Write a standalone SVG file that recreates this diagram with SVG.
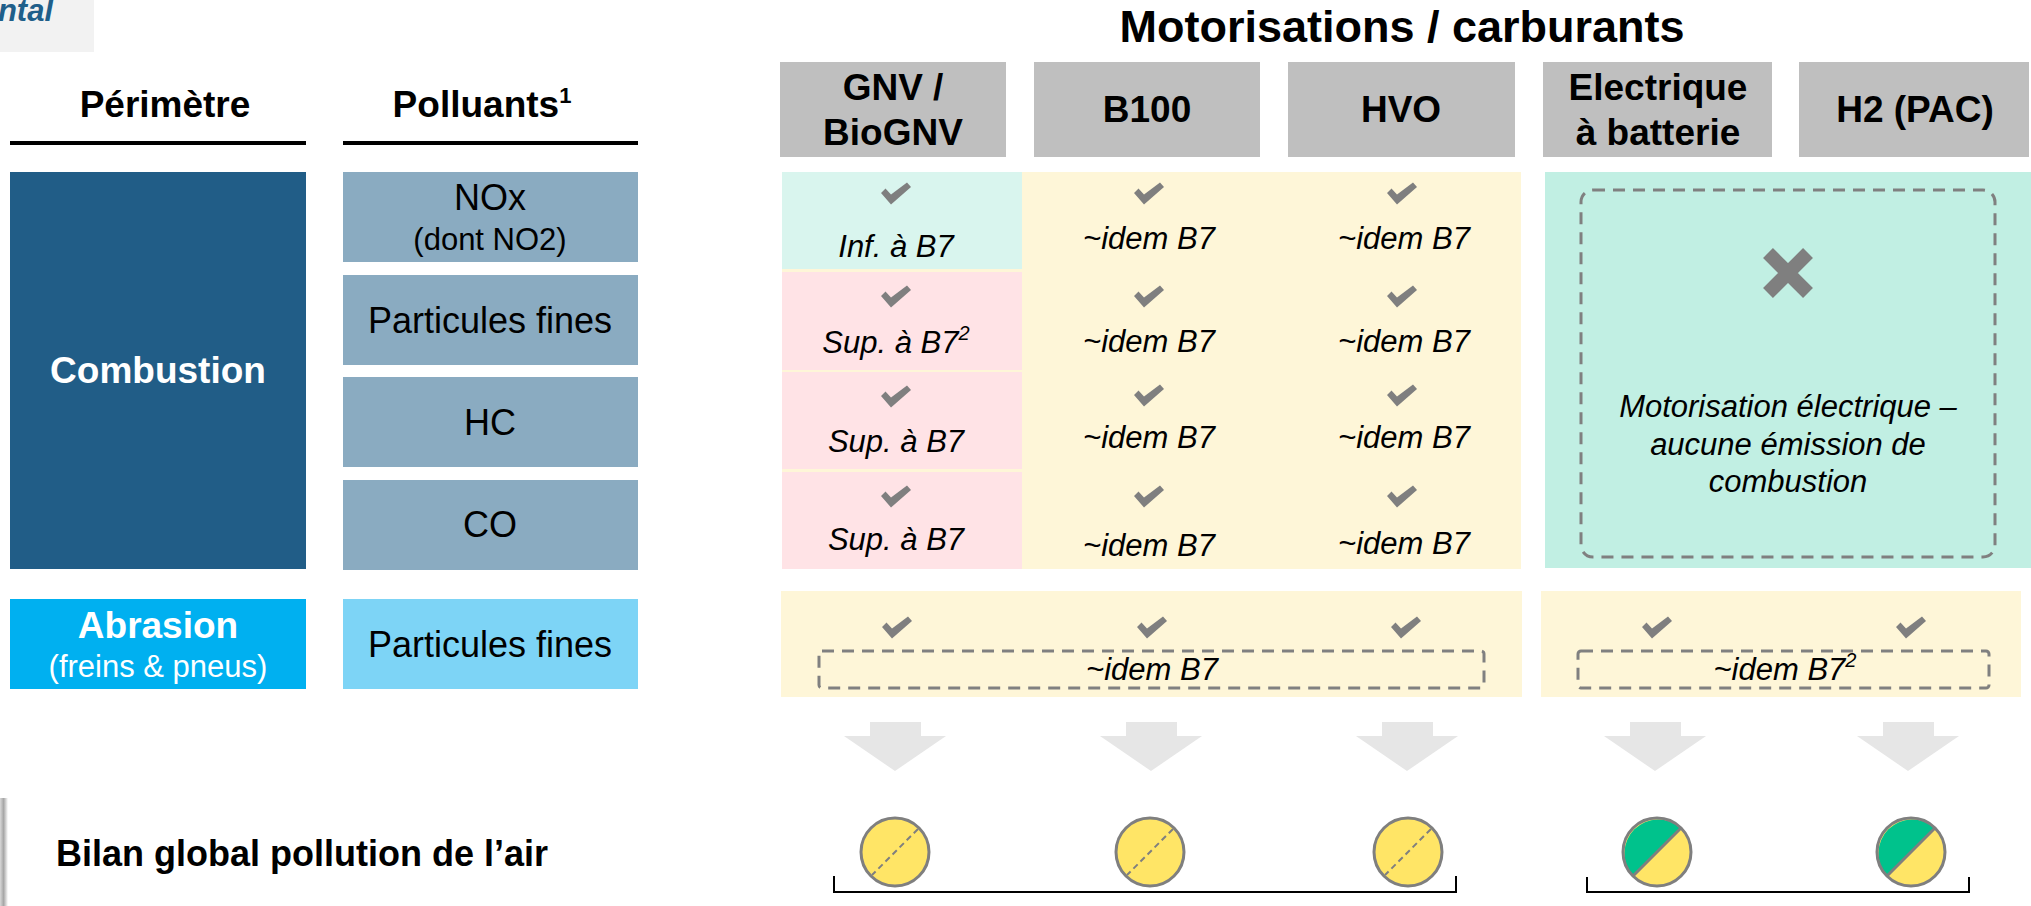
<svg xmlns="http://www.w3.org/2000/svg" width="2031" height="906" viewBox="0 0 2031 906">
<style>
text{font-family:"Liberation Sans",Arial,sans-serif;}
.h{font-weight:bold;font-size:37px;fill:#000;text-anchor:middle;}
.lbl{font-size:36px;fill:#000;text-anchor:middle;}
.sm{font-size:31px;text-anchor:middle;}
.it{font-style:italic;font-size:31px;fill:#000;text-anchor:middle;}
.hdr{fill:#bfbfbf;}
.pol{fill:#8aabc1;}
.dash{fill:none;stroke:#808080;stroke-width:3;stroke-dasharray:12 8;}
.chk{fill:#7f7f7f;}
.arr{fill:#e6e6e6;}
.ring{fill:none;stroke:#7f7f7f;stroke-width:3;}
.br{fill:none;stroke:#000;stroke-width:2;}
</style>
<defs>
<polygon id="chk" class="chk" points="-15,-1 -10.5,-5.5 -5,0.5 11,-11.5 15,-7 -5,10.5"/>
<linearGradient id="sh" x1="0" y1="0" x2="1" y2="0">
<stop offset="0" stop-color="#d8d8d8"/>
<stop offset="0.45" stop-color="#a6a6a6"/>
<stop offset="1" stop-color="#ffffff"/>
</linearGradient>
</defs>
<rect width="2031" height="906" fill="#ffffff"/>

<g id="title-fragment">
<rect x="0" y="0" width="94" height="52" fill="#f2f2f2"/>
<text x="53" y="21" font-size="31" font-weight="bold" font-style="italic" fill="#1f5f8a" text-anchor="end">ntal</text>
</g>

<g id="col-headers-left">
<text class="h" x="165" y="117">Périmètre</text>
<rect x="10" y="141" width="296" height="4" fill="#000"/>
<text class="h" x="482" y="117">Polluants<tspan font-size="22" dy="-14">1</tspan></text>
<rect x="343" y="141" width="295" height="4" fill="#000"/>
</g>

<g id="perimetre-combustion">
<rect x="10" y="172" width="296" height="397" fill="#215d87"/>
<text class="h" x="158" y="383" style="fill:#fff">Combustion</text>
</g>
<g id="perimetre-abrasion">
<rect x="10" y="599" width="296" height="90" fill="#00b0f0"/>
<text class="h" x="158" y="638" style="fill:#fff">Abrasion</text>
<text class="sm" x="158" y="677" fill="#fff">(freins &amp; pneus)</text>
</g>

<g id="pol-nox">
<rect class="pol" x="343" y="172" width="295" height="90"/>
<text class="lbl" x="490" y="210">NOx</text>
<text class="sm" x="490" y="250" fill="#000">(dont NO2)</text>
</g>
<g id="pol-pf">
<rect class="pol" x="343" y="275" width="295" height="90"/>
<text class="lbl" x="490" y="333">Particules fines</text>
</g>
<g id="pol-hc">
<rect class="pol" x="343" y="377" width="295" height="90"/>
<text class="lbl" x="490" y="435">HC</text>
</g>
<g id="pol-co">
<rect class="pol" x="343" y="480" width="295" height="90"/>
<text class="lbl" x="490" y="537">CO</text>
</g>
<g id="pol-abrasion-pf">
<rect x="343" y="599" width="295" height="90" fill="#7dd4f6"/>
<text class="lbl" x="490" y="657">Particules fines</text>
</g>

<g id="motorisations-title">
<text x="1402" y="42" font-size="45" font-weight="bold" text-anchor="middle" fill="#000">Motorisations / carburants</text>
</g>

<g id="hdr-gnv">
<rect class="hdr" x="780" y="62" width="226" height="95"/>
<text class="h" x="893" y="100">GNV /</text>
<text class="h" x="893" y="145">BioGNV</text>
</g>
<g id="hdr-b100">
<rect class="hdr" x="1034" y="62" width="226" height="95"/>
<text class="h" x="1147" y="122">B100</text>
</g>
<g id="hdr-hvo">
<rect class="hdr" x="1288" y="62" width="227" height="95"/>
<text class="h" x="1401" y="122">HVO</text>
</g>
<g id="hdr-elec">
<rect class="hdr" x="1543" y="62" width="229" height="95"/>
<text class="h" x="1658" y="100">Electrique</text>
<text class="h" x="1658" y="145">à batterie</text>
</g>
<g id="hdr-h2">
<rect class="hdr" x="1799" y="62" width="230" height="95"/>
<text class="h" x="1915" y="122">H2 (PAC)</text>
</g>

<g id="combustion-thermal">
<rect x="782" y="172" width="739" height="397" fill="#fef6d8"/>
<rect x="782" y="172" width="240" height="97" fill="#d9f5ee"/>
<rect x="782" y="272" width="240" height="98" fill="#ffe3e6"/>
<rect x="782" y="372" width="240" height="97" fill="#ffe3e6"/>
<rect x="782" y="472" width="240" height="97" fill="#ffe3e6"/>
<use href="#chk" x="896" y="194"/>
<use href="#chk" x="896" y="297"/>
<use href="#chk" x="896" y="397"/>
<use href="#chk" x="896" y="497"/>
<use href="#chk" x="1149" y="194"/>
<use href="#chk" x="1149" y="297"/>
<use href="#chk" x="1149" y="396"/>
<use href="#chk" x="1149" y="497"/>
<use href="#chk" x="1402" y="194"/>
<use href="#chk" x="1402" y="297"/>
<use href="#chk" x="1402" y="396"/>
<use href="#chk" x="1402" y="497"/>
<text class="it" x="896" y="257">Inf. à B7</text>
<text class="it" x="896" y="353">Sup. à B7<tspan font-size="20" dy="-13">2</tspan></text>
<text class="it" x="896" y="452">Sup. à B7</text>
<text class="it" x="896" y="550">Sup. à B7</text>
<text class="it" x="1149" y="249">~idem B7</text>
<text class="it" x="1149" y="352">~idem B7</text>
<text class="it" x="1149" y="448">~idem B7</text>
<text class="it" x="1149" y="556">~idem B7</text>
<text class="it" x="1404" y="249">~idem B7</text>
<text class="it" x="1404" y="352">~idem B7</text>
<text class="it" x="1404" y="448">~idem B7</text>
<text class="it" x="1404" y="554">~idem B7</text>
</g>

<g id="combustion-electric">
<rect x="1545" y="172" width="486" height="396" fill="#c1efe3"/>
<rect class="dash" x="1581" y="190" width="414" height="367" rx="12"/>
<path d="M1768,253 L1808,293 M1808,253 L1768,293" stroke="#7f7f7f" stroke-width="14" fill="none"/>
<text class="it" x="1788" y="417">Motorisation électrique –</text>
<text class="it" x="1788" y="455">aucune émission de</text>
<text class="it" x="1788" y="492">combustion</text>
</g>

<g id="abrasion-thermal">
<rect x="781" y="591" width="741" height="106" fill="#fef6d8"/>
<use href="#chk" x="897" y="628"/>
<use href="#chk" x="1152" y="628"/>
<use href="#chk" x="1406" y="628"/>
<rect class="dash" x="819" y="651" width="665" height="37" rx="3"/>
<text class="it" x="1152" y="680">~idem B7</text>
</g>
<g id="abrasion-electric">
<rect x="1541" y="591" width="480" height="106" fill="#fef6d8"/>
<use href="#chk" x="1657" y="628"/>
<use href="#chk" x="1911" y="628"/>
<rect class="dash" x="1578" y="651" width="411" height="37" rx="3"/>
<text class="it" x="1785" y="680">~idem B7<tspan font-size="20" dy="-13">2</tspan></text>
</g>

<g id="connectors">
<path class="arr" d="M870,722 h51 v14 h25 L895,771 L844,736 h26 Z"/>
<path class="arr" d="M1126,722 h51 v14 h25 L1151,771 L1100,736 h26 Z"/>
<path class="arr" d="M1382,722 h51 v14 h25 L1407,771 L1356,736 h26 Z"/>
<path class="arr" d="M1630,722 h51 v14 h25 L1655,771 L1604,736 h26 Z"/>
<path class="arr" d="M1883,722 h51 v14 h25 L1908,771 L1857,736 h26 Z"/>
<path class="br" d="M834,876 V892 H1456 V876"/>
<path class="br" d="M1587,877 V892 H1969 V877"/>
</g>

<g id="bilan">
<rect x="0" y="798" width="8" height="108" fill="url(#sh)"/>
<text x="56" y="866" font-size="36" font-weight="bold" fill="#000">Bilan global pollution de l’air</text>
</g>

<g id="score-gnv">
<circle cx="895" cy="852" r="34" fill="#ffe566"/>
<line x1="918" y1="829" x2="872" y2="875" stroke="#7f7f7f" stroke-width="2" stroke-dasharray="6 4"/>
<circle class="ring" cx="895" cy="852" r="34"/>
</g>
<g id="score-b100">
<circle cx="1150" cy="852" r="34" fill="#ffe566"/>
<line x1="1173" y1="829" x2="1127" y2="875" stroke="#7f7f7f" stroke-width="2" stroke-dasharray="6 4"/>
<circle class="ring" cx="1150" cy="852" r="34"/>
</g>
<g id="score-hvo">
<circle cx="1408" cy="852" r="34" fill="#ffe566"/>
<line x1="1431" y1="829" x2="1385" y2="875" stroke="#7f7f7f" stroke-width="2" stroke-dasharray="6 4"/>
<circle class="ring" cx="1408" cy="852" r="34"/>
</g>
<g id="score-elec">
<circle cx="1657" cy="852" r="34" fill="#ffe566"/>
<path d="M1681,828 A34,34 0 0 0 1633,876 Z" fill="#00c28c"/>
<line x1="1681" y1="828" x2="1633" y2="876" stroke="#7f7f7f" stroke-width="3"/>
<circle class="ring" cx="1657" cy="852" r="34"/>
</g>
<g id="score-h2">
<circle cx="1911" cy="852" r="34" fill="#ffe566"/>
<path d="M1935,828 A34,34 0 0 0 1887,876 Z" fill="#00c28c"/>
<line x1="1935" y1="828" x2="1887" y2="876" stroke="#7f7f7f" stroke-width="3"/>
<circle class="ring" cx="1911" cy="852" r="34"/>
</g>
</svg>
